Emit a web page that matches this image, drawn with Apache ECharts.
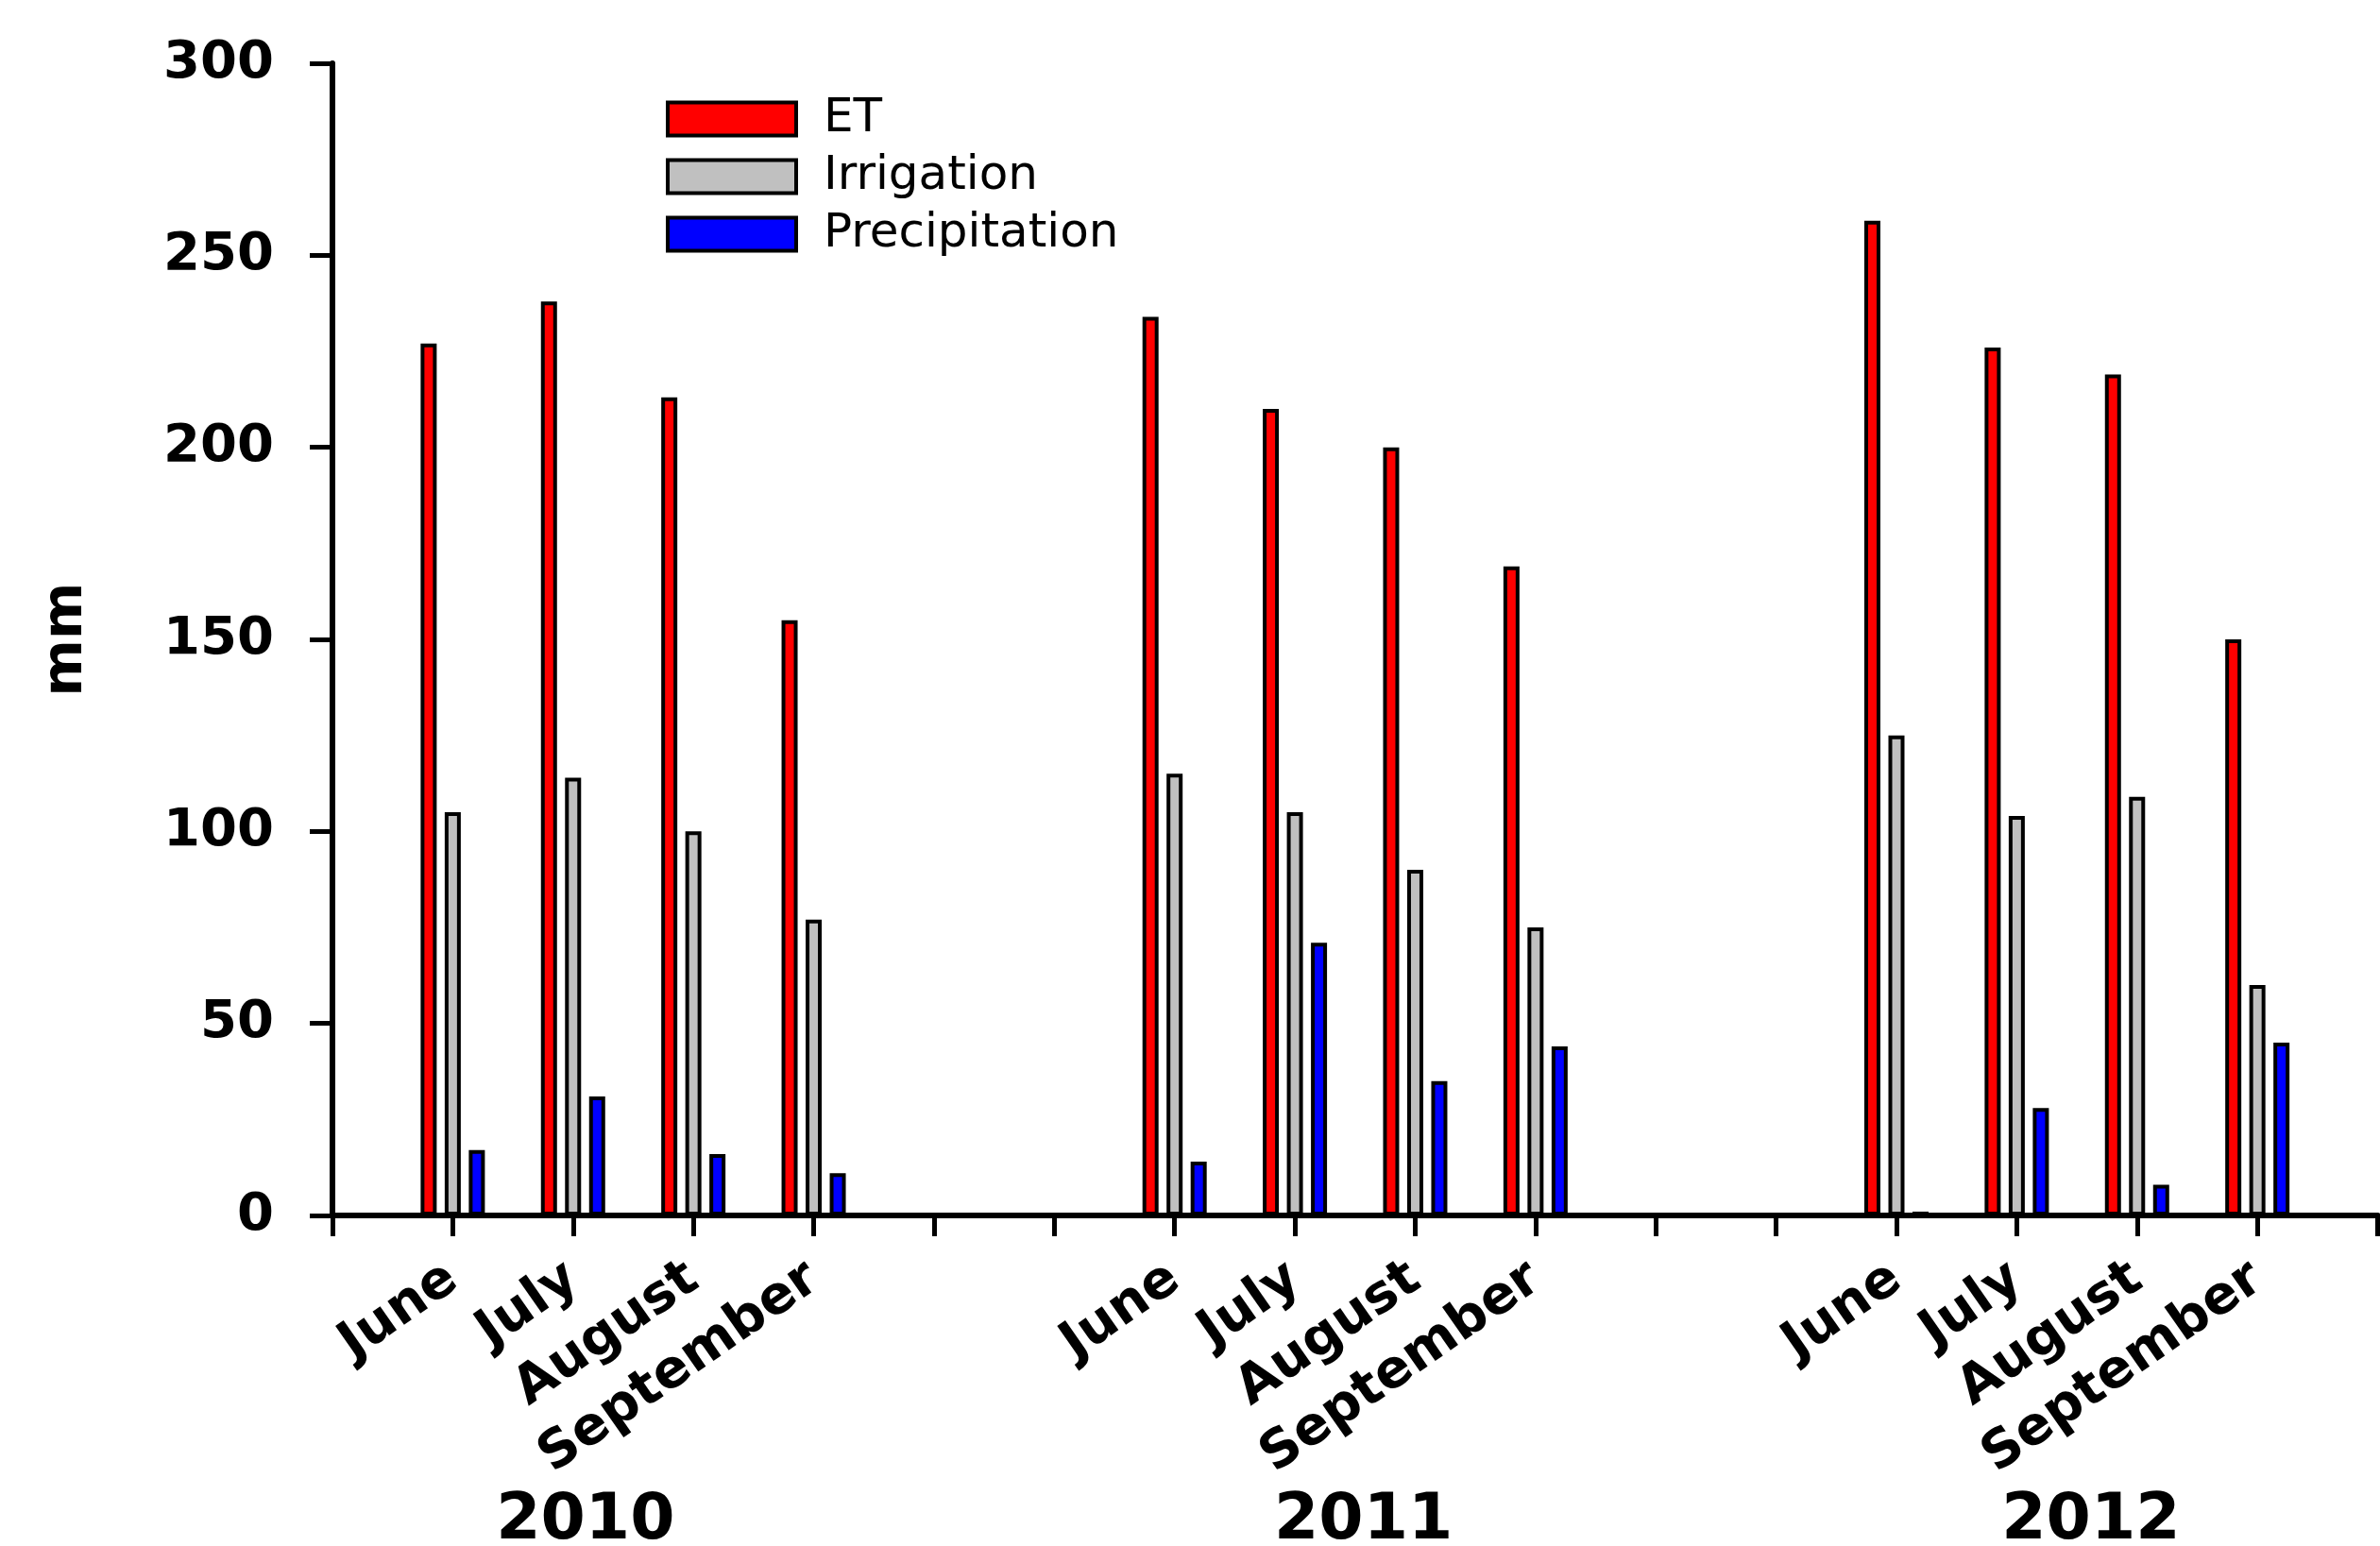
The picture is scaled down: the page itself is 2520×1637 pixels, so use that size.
<!DOCTYPE html>
<html>
<head>
<meta charset="utf-8">
<script src="https://cdn.jsdelivr.net/npm/echarts@6/dist/echarts.min.js"></script>
<style>
html,body{margin:0;padding:0;background:#fff;}
#chart{width:2520px;height:1637px;}
</style>
</head>
<body>
<div id="chart"></div>
<script>
// Category slots: empty slots give the spacing between years
const categories = ['', 'June', 'July', 'August', 'September', '', '', 'June', 'July', 'August', 'September', '', '', 'June', 'July', 'August', 'September', ''];
const etValues = [null, 227, 238, 213, 155, null, null, 234, 210, 200, 169, null, null, 259, 226, 219, 150, null];
const irrigationValues = [null, 105, 114, 100, 77, null, null, 115, 105, 90, 75, null, null, 125, 104, 109, 60, null];
const precipitationValues = [null, 17, 31, 16, 11, null, null, 14, 71, 35, 44, null, null, 1, 28, 8, 45, null];
const yearLabels = ['2010', '2011', '2012'];
const yearCenters = [2.1, 8.56, 14.6]; // position along category slots
const yTicks = [0, 50, 100, 150, 200, 250, 300];

const GRID = {left: 352, right: 0, top: 67, bottom: 350};
const chart = echarts.init(document.getElementById('chart'));

const barStyle = (color) => ({color: color, borderColor: '#000', borderWidth: 4});

const seriesDefs = [
  {name: 'ET', data: etValues, color: '#FF0000'},
  {name: 'Irrigation', data: irrigationValues, color: '#C0C0C0'},
  {name: 'Precipitation', data: precipitationValues, color: '#0000FF'}
];

const plotW = 2520 - GRID.left - GRID.right;
const step = plotW / (categories.length - 1);

chart.setOption({
  animation: false,
  backgroundColor: '#fff',
  grid: GRID,
  legend: {
    orient: 'vertical',
    left: 700,
    top: 96,
    itemWidth: 136,
    itemHeight: 35,
    itemGap: 11,
    icon: 'rect',
    itemStyle: {borderColor: '#000', borderWidth: 4},
    textStyle: {fontFamily: 'DejaVu Sans', fontSize: 50, color: '#000', padding: [0, 0, 0, 24]},
    data: seriesDefs.map(s => s.name)
  },
  xAxis: {
    type: 'category',
    data: categories,
    boundaryGap: false,
    axisLine: {lineStyle: {color: '#000', width: 6}},
    axisTick: {show: true, interval: 0, length: 22, lineStyle: {color: '#000', width: 5}},
    axisLabel: {
      interval: 0, rotate: 35, margin: 62,
      fontFamily: 'DejaVu Sans', fontWeight: 'bold', fontSize: 56, color: '#000'
    },
    splitLine: {show: false}
  },
  yAxis: {
    type: 'value',
    min: yTicks[0], max: yTicks[yTicks.length - 1], interval: 50,
    name: 'mm',
    nameLocation: 'middle',
    nameGap: 252,
    nameTextStyle: {fontFamily: 'DejaVu Sans', fontWeight: 'bold', fontSize: 58, color: '#000'},
    axisLine: {show: true, lineStyle: {color: '#000', width: 6}},
    axisTick: {show: true, length: 24, lineStyle: {color: '#000', width: 5}},
    axisLabel: {margin: 62, fontFamily: 'DejaVu Sans', fontWeight: 'bold', fontSize: 56, color: '#000'},
    splitLine: {show: false}
  },
  series: seriesDefs.map(s => ({
    name: s.name,
    type: 'bar',
    data: s.data,
    barWidth: 17,
    barGap: '50%',
    itemStyle: barStyle(s.color)
  })),
  graphic: yearLabels.map((t, i) => ({
    type: 'text',
    x: GRID.left + yearCenters[i] * step,
    y: 1611,
    style: {
      text: t, fill: '#000',
      font: 'bold 68px "DejaVu Sans"',
      textAlign: 'center', textVerticalAlign: 'middle'
    }
  }))
});
</script>
</body>
</html>
